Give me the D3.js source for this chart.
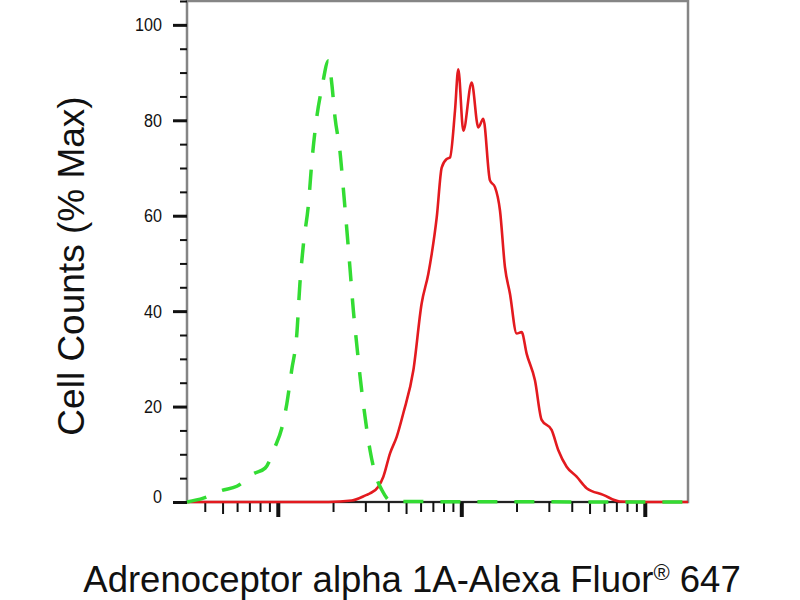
<!DOCTYPE html>
<html>
<head>
<meta charset="utf-8">
<script src="https://cdn.jsdelivr.net/npm/d3@7"></script>
<style>
  body { margin: 0; background: #fff; }
  svg { display: block; }
</style>
</head>
<body>
<div id="chart"></div>
<script>
// tick values
const yMajorTicks = [0, 20, 40, 60, 80, 100]
const yMinorTicks = [5, 10, 15, 25, 30, 35, 45, 50, 55, 65, 70, 75, 85, 90, 95, 105]
const xMajorTicks = [100, 1000, 10000]

const xLabelText = 'Adrenoceptor alpha 1A-Alexa Fluor'
const xLabelMark = '\u00AE'
const xLabelTail = ' 647'
const yLabelText = 'Cell Counts (% Max)'

// isotype control (green dashed), fluorescence intensity vs % max
const isotypeX = [32, 39.3, 49.5, 59.8, 73.6, 85.3, 96.7, 105, 112, 119, 127, 132, 138, 147, 153, 163, 174, 189, 197, 205, 218, 228, 238, 248, 258, 269, 281, 299, 318, 339, 369, 418, 17200]
const isotypeY = [0, 0.8, 2.4, 3.3, 5.9, 7.1, 11.6, 15.4, 20.6, 27.6, 35.3, 45.8, 54.1, 62.5, 70.9, 80.6, 86.9, 92.5, 87.6, 80.6, 73.6, 65.3, 56.9, 48.5, 40.2, 33.2, 26.2, 17.8, 10.9, 6.0, 2.5, 0.1, 0]

// stained sample (red solid)
const stainedX = [32, 189, 253, 305, 318, 353, 376, 409, 445, 483, 548, 608, 661, 690, 735, 782, 833, 868, 924, 963, 1026, 1139, 1238, 1318, 1433, 1526, 1625, 1730, 1841, 2003, 2133, 2270, 2520, 2741, 3105, 3375, 3750, 4252, 4820, 5935, 7315, 9020, 17200]
const stainedY = [0, 0, 0.3, 1.5, 1.8, 3.2, 5.3, 10.2, 13.7, 18.6, 27.6, 41.6, 47.8, 52.0, 59.7, 70.1, 71.9, 72.2, 82.0, 90.7, 77.8, 87.9, 78.5, 80.3, 67.4, 66.0, 61.1, 49.2, 43.7, 35.3, 35.6, 31.1, 25.5, 17.2, 15.1, 10.9, 7.4, 5.3, 2.9, 1.5, 0.1, 0, 0]

const width = 800
const height = 600
const margin = { top: 1, right: 112, bottom: 98, left: 187 }

const svg = d3.select('#chart')
  .append('svg')
    .attr('width', width)
    .attr('height', height)

const x = d3.scaleLog()
  .domain([32, 17200])
  .range([margin.left, width - margin.right])

const y = d3.scaleLinear()
  .domain([0, 105])
  .range([height - margin.bottom, margin.top])

const font = "'Liberation Sans', Arial, sans-serif"

// frame
svg.append('rect')
  .attr('x', margin.left)
  .attr('y', margin.top)
  .attr('width', width - margin.left - margin.right)
  .attr('height', height - margin.top - margin.bottom)
  .attr('fill', 'none')
  .attr('stroke', '#858585')
  .attr('stroke-width', 2.5)

svg.append('line')
  .attr('x1', margin.left).attr('x2', width - margin.right)
  .attr('y1', y(0)).attr('y2', y(0))
  .attr('stroke', '#222')
  .attr('stroke-width', 2)

// y axis, minor then major
svg.append('g')
  .attr('transform', `translate(${margin.left},0)`)
  .call(d3.axisLeft(y).tickValues(yMinorTicks).tickSize(7).tickFormat(''))
  .call(g => g.select('.domain').remove())
  .selectAll('line')
    .attr('stroke', '#111')
    .attr('stroke-width', 2)

const yAxis = svg.append('g')
  .attr('transform', `translate(${margin.left},0)`)
  .call(d3.axisLeft(y).tickValues(yMajorTicks).tickSize(14).tickPadding(15.5))
  .call(g => g.select('.domain').remove())

yAxis.selectAll('line')
  .attr('stroke', '#111')
  .attr('stroke-width', 3)

// narrow looking numbers, squeezed sideways
yAxis.selectAll('text')
  .attr('font-family', font)
  .attr('font-size', 19)
  .attr('fill', '#111')
  .attr('transform', 'scale(0.85,1)')
  .filter(d => d === 0)
    .attr('y', -6)

// x axis (log, no labels)
const xMinorTicks = x.ticks().filter(d => !xMajorTicks.includes(d))

svg.append('g')
  .attr('transform', `translate(0,${y(0)})`)
  .call(d3.axisBottom(x).tickValues(xMinorTicks).tickSize(10).tickFormat(''))
  .call(g => g.select('.domain').remove())
  .selectAll('line')
    .attr('y2', d => String(d)[0] === '5' ? 12 : 10)
    .attr('stroke', '#111')
    .attr('stroke-width', 2)

svg.append('g')
  .attr('transform', `translate(0,${y(0)})`)
  .call(d3.axisBottom(x).tickValues(xMajorTicks).tickSize(15).tickFormat(''))
  .call(g => g.select('.domain').remove())
  .selectAll('line')
    .attr('stroke', '#111')
    .attr('stroke-width', 4)

// curves
const line = d3.line()
  .x(d => x(d[0]))
  .y(d => y(d[1]))
  .curve(d3.curveMonotoneX)

svg.append('path')
  .datum(d3.zip(stainedX, stainedY))
  .attr('d', line)
  .attr('fill', 'none')
  .attr('stroke', '#e31a1f')
  .attr('stroke-width', 2.6)
  .attr('stroke-linejoin', 'round')

svg.append('path')
  .datum(d3.zip(isotypeX, isotypeY))
  .attr('d', line)
  .attr('fill', 'none')
  .attr('stroke', '#33dc33')
  .attr('stroke-width', 3.5)
  .attr('stroke-dasharray', '20,17')

// axis titles
const xTitle = svg.append('text')
  .attr('x', 412)
  .attr('y', 592)
  .attr('text-anchor', 'middle')
  .attr('font-family', font)
  .attr('font-size', 36.5)
  .attr('fill', '#111')

xTitle.append('tspan').text(xLabelText)
xTitle.append('tspan').attr('font-size', 22).attr('dy', -12).text(xLabelMark)
xTitle.append('tspan').attr('dy', 12).text(xLabelTail)

svg.append('text')
  .attr('transform', 'translate(84,266) rotate(-90)')
  .attr('text-anchor', 'middle')
  .attr('font-family', font)
  .attr('font-size', 37)
  .attr('fill', '#111')
  .text(yLabelText)
</script>
</body>
</html>
